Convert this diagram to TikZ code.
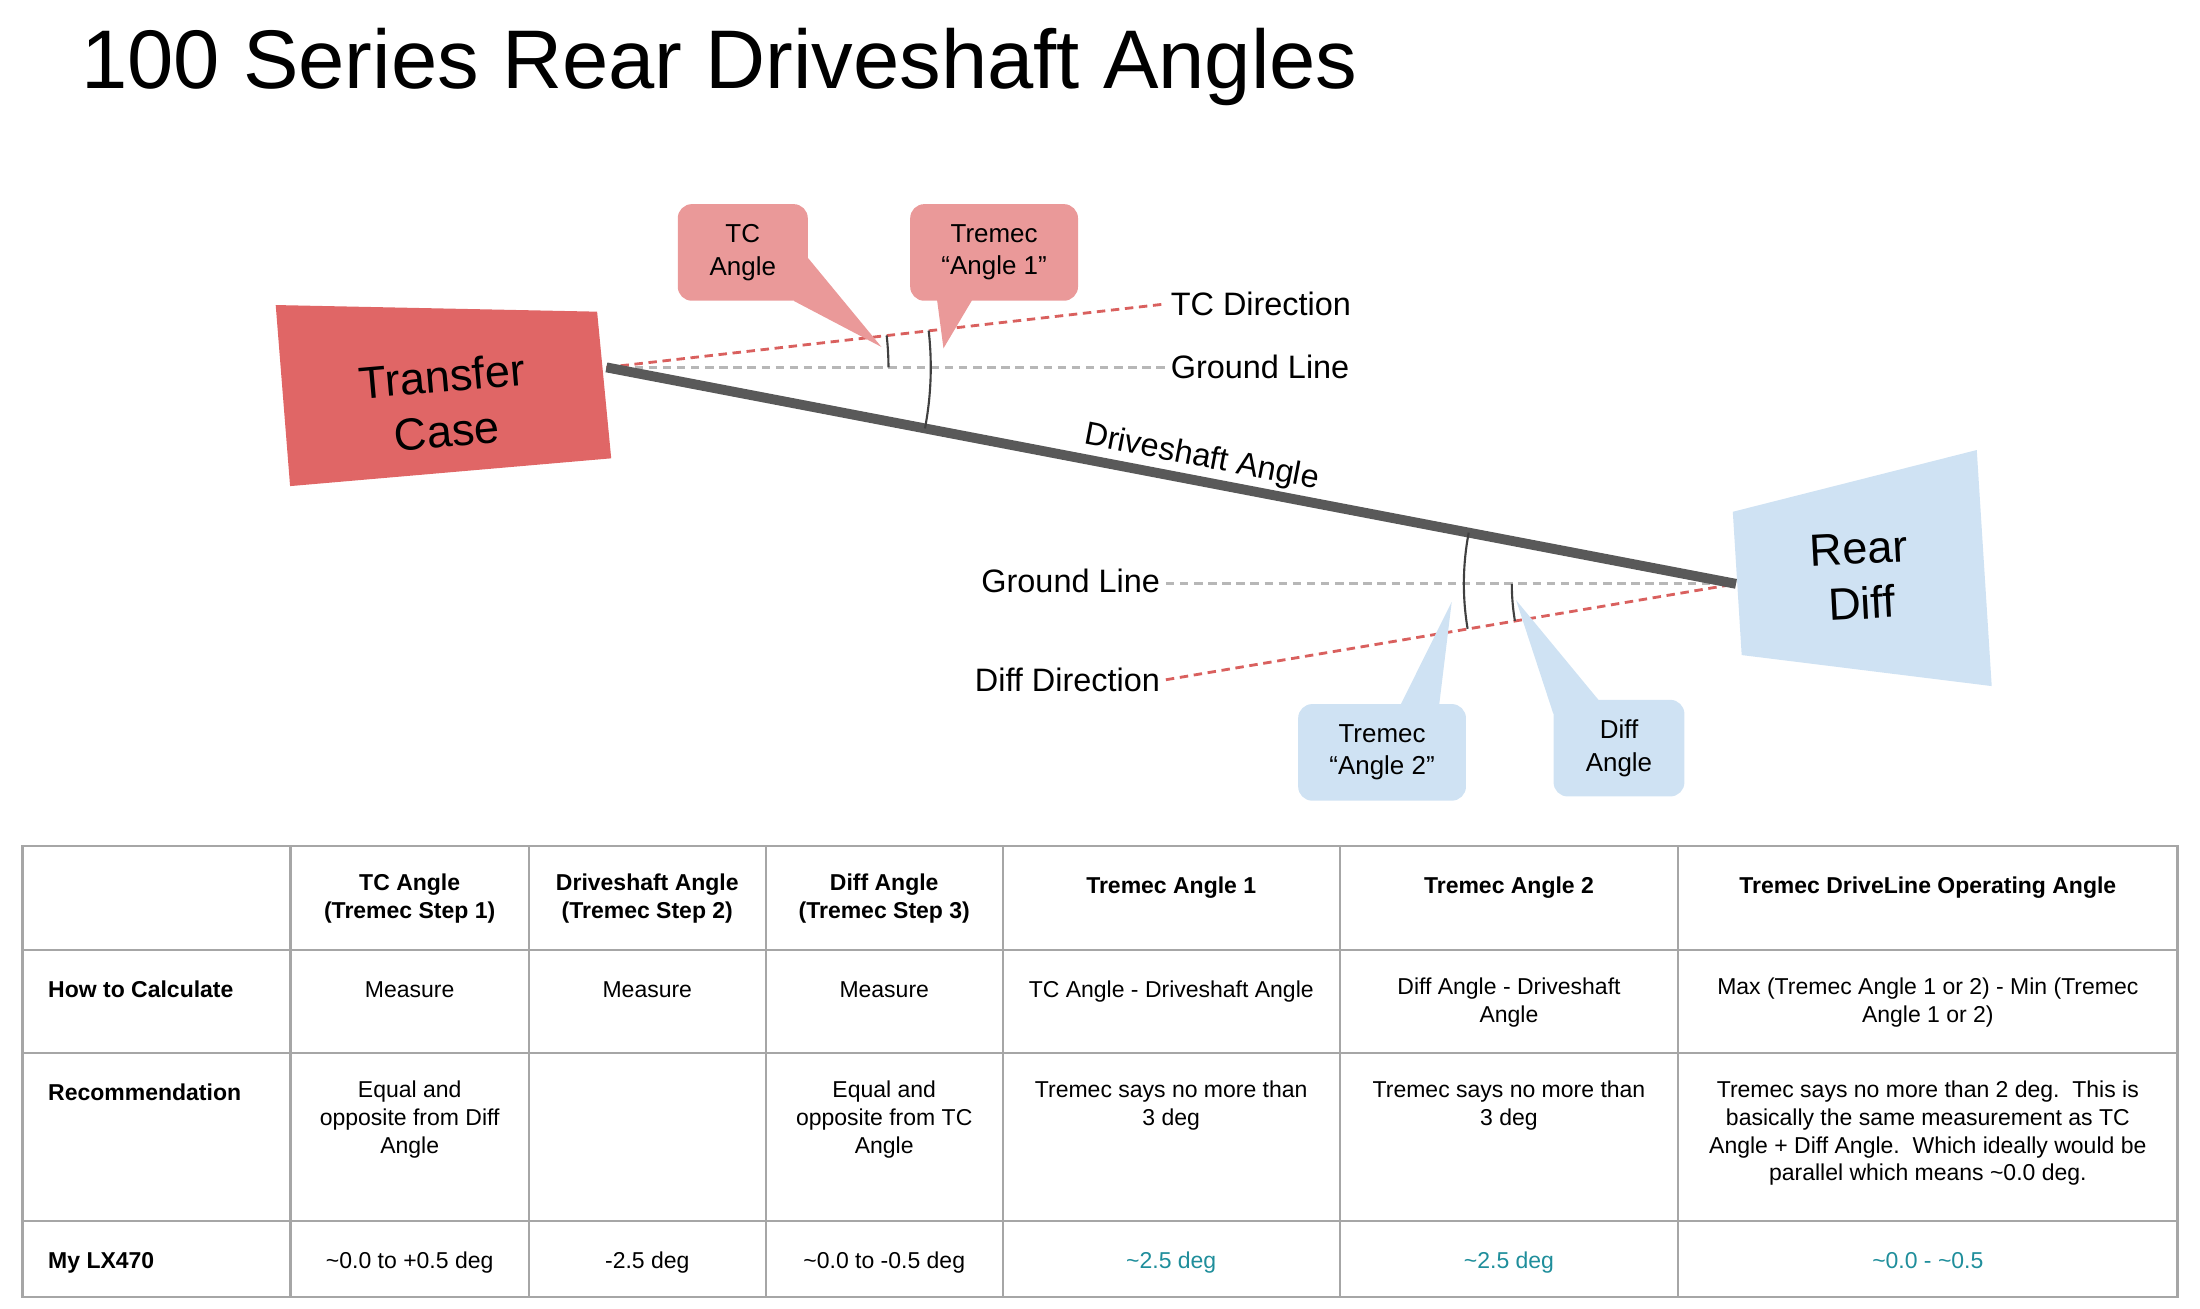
\documentclass[tikz,border=0pt]{standalone}
\usepackage{fontspec}
\setmainfont{Liberation Sans}
\usetikzlibrary{calc}
\usetikzlibrary{positioning}

\definecolor{tcred}{HTML}{E06666}
\definecolor{callred}{HTML}{EA9999}
\definecolor{diffblue}{HTML}{CFE2F3}
\definecolor{shaftgray}{HTML}{595959}
\definecolor{groundgray}{HTML}{B7B7B7}
\definecolor{dirred}{HTML}{D9605E}
\definecolor{arcgray}{HTML}{404040}
\definecolor{rulegray}{HTML}{A6A6A6}
\definecolor{valteal}{HTML}{1F8E9B}

\newcommand{\cellfont}{\fontsize{16.3}{19.7}\selectfont}

\begin{document}
\begin{tikzpicture}[x=1pt,y=-1pt,
    partbox/.style={font=\fontsize{32}{39}\selectfont,align=center,inner sep=0pt},
    bubble/.style={fill=#1,rounded corners=10pt,align=center,inner sep=0pt,minimum height=68.5pt,font=\fontsize{18.4}{23}\selectfont},
    linelabel/.style={font=\fontsize{23}{28}\selectfont,inner sep=4pt},
    shaft/.style={draw=shaftgray,line width=7pt},
    grounddash/.style={draw=groundgray,line width=2pt,dash pattern=on 6pt off 4pt},
    dirdash/.style={draw=dirred,line width=2pt,dash pattern=on 6pt off 4pt},
    anglearc/.style={draw=arcgray,line width=1.5pt},
    tablerule/.style={draw=rulegray,line width=1.6pt},
    cell/.style={font=\cellfont,align=center,anchor=north,inner sep=0pt,execute at begin node=\strut},
    headcell/.style={cell,font=\cellfont\bfseries},
    rowhead/.style={font=\cellfont\bfseries,anchor=north west,inner sep=0pt,execute at begin node=\strut}
  ]

  \useasboundingbox (0,0) rectangle (1560,928.2);

  \node [anchor=base west,inner sep=0pt,font=\fontsize{59}{70}\selectfont] (title) at (57.5,62.6) {100 Series Rear Driveshaft Angles};

  \coordinate (tcj) at (430,260.5);
  \coordinate (dfj) at (1231,414);

  \fill [tcred] (195.5,216.3) -- (423.4,221) -- (433.4,325) -- (205.7,344.7) -- cycle;
  \node [partbox,rotate=5] (tc) at (315,286) {Transfer\\Case};

  \fill [diffblue] (1228.7,362.9) -- (1401.7,319.1) -- (1412.3,486.5) -- (1235,464.5) -- cycle;
  \node [partbox,rotate=3] (rd) at (1319,408.5) {Rear\\Diff};

  \node [linelabel,anchor=west] (tcdir) at (826,215.6) {TC Direction};
  \node [linelabel,anchor=west] (gnd1) at (826,260.5) {Ground Line};
  \node [linelabel,anchor=east] (gnd2) at (826.7,412) {Ground Line};
  \node [linelabel,anchor=east] (dfdir) at (826.7,482) {Diff Direction};

  \path [grounddash] (tcj) -- (gnd1.west);
  \path [dirdash] (tcj) -- (tcdir.west);
  \path [grounddash] (gnd2.east |- dfj) -- (dfj);
  \path [dirdash] (dfdir.east) -- (dfj);
  \path [shaft] (tcj) -- (dfj)
    node [sloped,above,pos=0.523,font=\fontsize{23}{28}\selectfont,inner sep=2pt] (dsa) {Driveshaft Angle};

  \node [bubble=callred,minimum width=92.2pt] (tcang) at (526.7,179) {TC\\Angle};
  \node [bubble=callred,minimum width=119pt] (ang1) at (704.9,179) {Tremec\\“Angle 1”};
  \node [bubble=diffblue,minimum width=119pt] (ang2) at (980,533.5) {Tremec\\“Angle 2”};
  \node [bubble=diffblue,minimum width=92.8pt] (dfang) at (1148,530.5) {Diff\\Angle};

  \coordinate (tcangtip) at (625,246);
  \coordinate (ang1tip) at (669,247);
  \coordinate (ang2tip) at (1029.4,426.7);
  \coordinate (dfangtip) at (1075,425.5);

  \fill [callred] ([yshift=-4pt]tcang.east) -- (tcangtip) -- ([xshift=-10pt]tcang.south east) -- cycle;
  \fill [callred] ([xshift=-41pt,yshift=5pt]ang1.south) -- (ang1tip) -- ([xshift=-13pt,yshift=5pt]ang1.south) -- cycle;
  \fill [diffblue] ([xshift=11pt,yshift=-5pt]ang2.north) -- (ang2tip) -- ([xshift=40pt,yshift=-5pt]ang2.north) -- cycle;
  \fill [diffblue] ([yshift=-10pt]dfang.north west) -- (dfangtip) -- ([xshift=36pt,yshift=-5pt]dfang.north west) -- cycle;

  \draw [anglearc] ($(tcj)+(-6.5:200)$) arc [start angle=-6.5,end angle=0,radius=200];
  \draw [anglearc] ($(tcj)+(-6.5:230)$) arc [start angle=-6.5,end angle=10.85,radius=230];
  \draw [anglearc] ($(dfj)+(190.85:193)$) arc [start angle=190.85,end angle=170.5,radius=193];
  \draw [anglearc] ($(dfj)+(180:159)$) arc [start angle=180,end angle=170.5,radius=159];

  \path [tablerule] (16,600) rectangle (1544,919.5);
  \foreach \x in {206,375,543,711,950,1190}
    \path [tablerule] (\x,600) -- (\x,919.5);
  \foreach \y in {673.5,746.5,866}
    \path [tablerule] (16,\y) -- (1544,\y);

  \node [headcell] (h-tc) at (290.5,619.7) {TC Angle\\(Tremec Step 1)};
  \node [headcell] (h-ds) at (459,619.7) {Driveshaft Angle\\(Tremec Step 2)};
  \node [headcell] (h-df) at (627,619.7) {Diff Angle\\(Tremec Step 3)};
  \node [headcell] (h-t1) at (830.5,619.7) {Tremec Angle 1};
  \node [headcell] (h-t2) at (1070,619.7) {Tremec Angle 2};
  \node [headcell] (h-op) at (1367,619.7) {Tremec DriveLine Operating Angle};

  \node [rowhead] (calc) at (34,693.2) {How to Calculate};
  \node [cell] (calc-tc) at (290.5,693.2) {Measure};
  \node [cell] (calc-ds) at (459,693.2) {Measure};
  \node [cell] (calc-df) at (627,693.2) {Measure};
  \node [cell] (calc-t1) at (830.5,693.2) {TC Angle - Driveshaft Angle};
  \node [cell] (calc-t2) at (1070,693.2) {Diff Angle - Driveshaft\\Angle};
  \node [cell] (calc-op) at (1367,693.2) {Max (Tremec Angle 1 or 2) - Min (Tremec\\Angle 1 or 2)};

  \node [rowhead] (rec) at (34,766.2) {Recommendation};
  \node [cell] (rec-tc) at (290.5,766.2) {Equal and\\opposite from Diff\\Angle};
  \node [cell] (rec-df) at (627,766.2) {Equal and\\opposite from TC\\Angle};
  \node [cell] (rec-t1) at (830.5,766.2) {Tremec says no more than\\3 deg};
  \node [cell] (rec-t2) at (1070,766.2) {Tremec says no more than\\3 deg};
  \node [cell] (rec-op) at (1367,766.2) {Tremec says no more than 2 deg.\ \ This is\\basically the same measurement as TC\\Angle + Diff Angle.\ \ Which ideally would be\\parallel which means \textasciitilde0.0 deg.};

  \node [rowhead] (lx) at (34,885.7) {My LX470};
  \node [cell] (lx-tc) at (290.5,885.7) {\textasciitilde0.0 to +0.5 deg};
  \node [cell] (lx-ds) at (459,885.7) {-2.5 deg};
  \node [cell] (lx-df) at (627,885.7) {\textasciitilde0.0 to -0.5 deg};
  \node [cell,text=valteal] (lx-t1) at (830.5,885.7) {\textasciitilde2.5 deg};
  \node [cell,text=valteal] (lx-t2) at (1070,885.7) {\textasciitilde2.5 deg};
  \node [cell,text=valteal] (lx-op) at (1367,885.7) {\textasciitilde0.0 - \textasciitilde0.5};

\end{tikzpicture}
\end{document}
